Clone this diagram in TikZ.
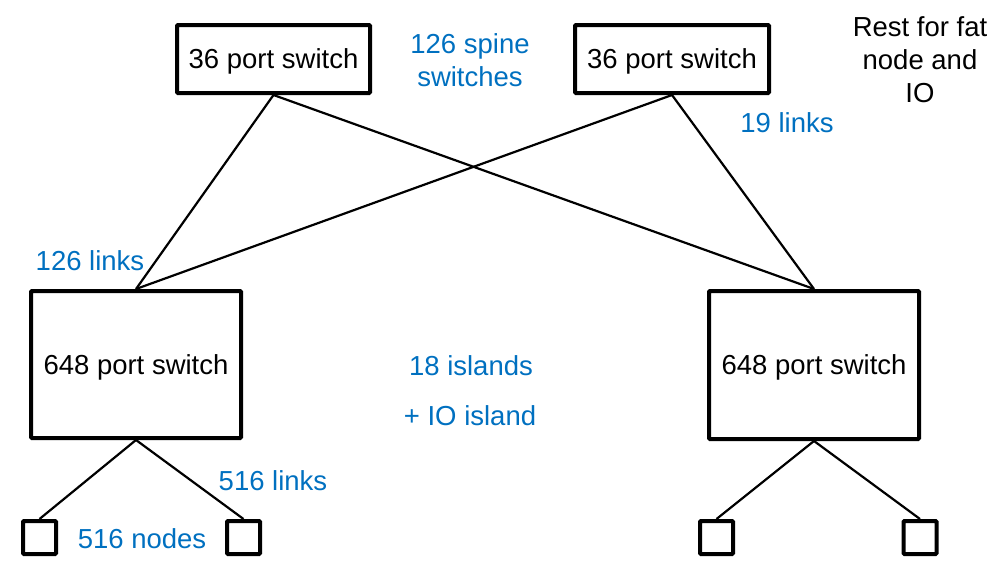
\documentclass[tikz,border=0pt]{standalone}
\usepackage{fontspec}
\setmainfont{Liberation Sans}
\definecolor{labelblue}{RGB}{0,112,192}
\tikzset{
  txt/.style={font=\fontsize{27.5}{33}\selectfont, inner sep=0pt, align=center},
  bluetxt/.style={txt, text=labelblue},
  swbox/.style={draw, line width=4pt, rounded corners=1pt, inner sep=0pt, txt, text depth=0pt},
  leaf/.style={draw, line width=4pt, rounded corners=1pt, minimum width=33pt, minimum height=33pt, inner sep=0pt},
  link/.style={line width=2.2pt},
}
\begin{document}
\begin{tikzpicture}[x=1pt, y=-1pt]
  \useasboundingbox (0,0) rectangle (1007,560);

  % spine switches
  \node[swbox, minimum width=193pt, minimum height=68pt] (sw1) at (273.5,59) {36 port switch};
  \node[swbox, minimum width=194pt, minimum height=68pt] (sw2) at (672,59) {36 port switch};

  % island switches
  \node[swbox, minimum width=210pt, minimum height=147pt] (big1) at (136,364.5) {648 port switch};
  \node[swbox, minimum width=210pt, minimum height=148pt] (big2) at (814,365) {648 port switch};

  % compute nodes
  \node[leaf] (n1) at (39.5,537.5) {};
  \node[leaf] (n2) at (243.5,537.5) {};
  \node[leaf] (n3) at (716.5,537.5) {};
  \node[leaf] (n4) at (920,537.5) {};

  % links
  \draw[link] (sw1.south) -- (big1.north);
  \draw[link] (sw1.south) -- (big2.north);
  \draw[link] (sw2.south) -- (big1.north);
  \draw[link] (sw2.south) -- (big2.north);
  \draw[link] (big1.south) -- (n1.north);
  \draw[link] (big1.south) -- (n2.north);
  \draw[link] (big2.south) -- (n3.north);
  \draw[link] (big2.south) -- (n4.north);

  % annotations
  \node[bluetxt] (spine) at (470,60) {126 spine\\switches};
  \node[txt] (rest) at (920,60) {Rest for fat\\node and\\IO};
  \node[bluetxt] (l19) at (787,123) {19 links};
  \node[bluetxt] (l126) at (90,261) {126 links};
  \node[bluetxt] (isl) at (471,366) {18 islands};
  \node[bluetxt] (io) at (470,416) {+ IO island};
  \node[bluetxt] (l516) at (273,481) {516 links};
  \node[bluetxt] (n516) at (142,539) {516 nodes};
\end{tikzpicture}
\end{document}
